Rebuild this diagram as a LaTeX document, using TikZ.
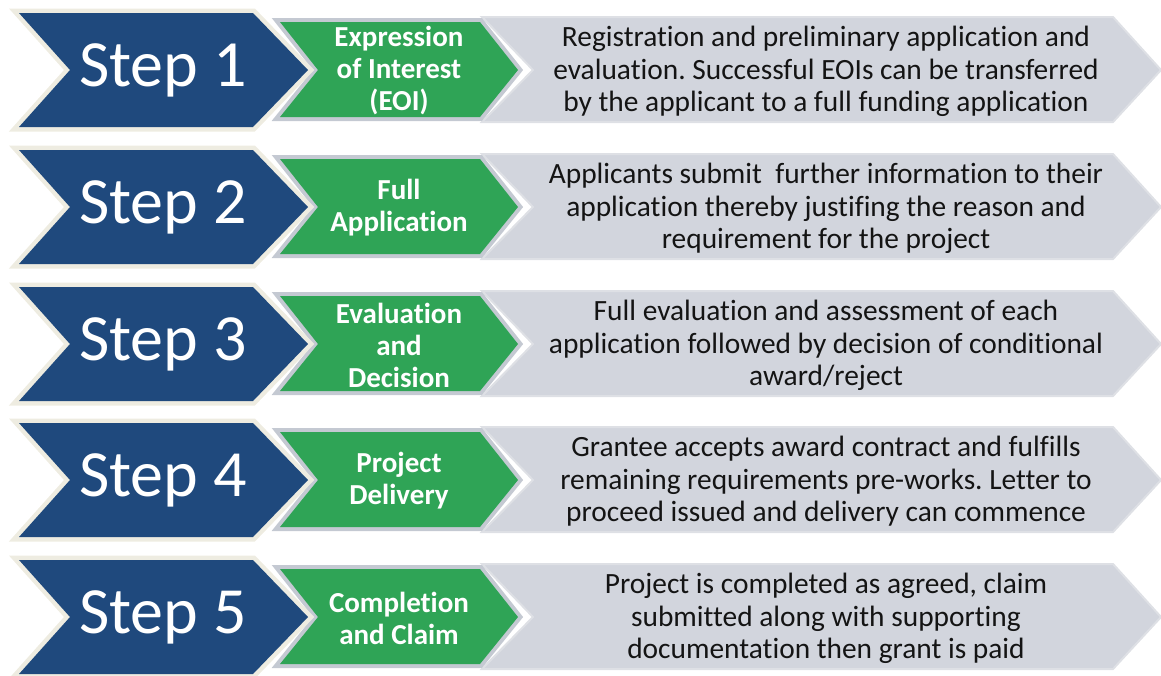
\documentclass[tikz,border=0pt]{standalone}
\usepackage{fontspec}
\setmainfont{Carlito}[Ligatures=NoCommon]
\frenchspacing

\definecolor{stepblue}{RGB}{31,73,125}
\definecolor{stepgreen}{RGB}{47,164,86}
\definecolor{cream}{RGB}{238,236,225}
\definecolor{silver}{RGB}{196,201,210}
\definecolor{descgrey}{RGB}{210,213,221}
\definecolor{greyedge}{RGB}{222,224,229}
\definecolor{desctxt}{RGB}{20,20,20}

\tikzset{
  bluechev/.style={fill=stepblue, preaction={draw=cream, line width=9pt}},
  greenchev/.style={fill=stepgreen, preaction={draw=silver, line width=8pt}},
  greychev/.style={fill=descgrey, draw=greyedge, line width=2pt},
  steptext/.style={text=white, font=\fontsize{66}{78}\selectfont},
  nametext/.style={text=white, align=center, font=\bfseries\fontsize{29}{32}\selectfont},
  desctext/.style={text=desctxt, align=center, font=\fontsize{29.4}{32.5}\selectfont},
}

% one row: centre y, number, green label, description
\newcommand{\steprow}[4]{%
  \path[greychev] (482,#1-53) -- (1113,#1-53) -- (1161,#1) -- (1113,#1+52) -- (482,#1+52) -- (533,#1) -- cycle;
  \path[greenchev] (280,#1-48) -- (480,#1-48) -- (518,#1) -- (480,#1+47) -- (280,#1+47) -- (318,#1) -- cycle;
  \path[bluechev] (19,#1-57) -- (253,#1-57) -- (308,#1) -- (253,#1+57) -- (19,#1+57) -- (70,#1) -- cycle;
  \node[steptext] (step#2) at (163,#1) {Step #2};
  \node[nametext] (name#2) at (399,#1+1) {#3};
  \node[desctext] (desc#2) at (826,#1+1.5) {#4};
}

\begin{document}
\begin{tikzpicture}[x=1pt,y=-1pt] %grant application steps
    \useasboundingbox (0,0) rectangle (1161,675);

    \steprow{70}{1}{Expression\\of Interest\\(EOI)}
        {Registration and preliminary application and\\evaluation. Successful EOIs can be transferred\\by the applicant to a full funding application}
    \steprow{207}{2}{Full\\Application}
        {Applicants submit\ \ further information to their\\application thereby justifing the reason and\\requirement for the project}
    \steprow{344}{3}{Evaluation\\and\\Decision}
        {Full evaluation and assessment of each\\application followed by decision of conditional\\award/reject}
    \steprow{480}{4}{Project\\Delivery}
        {Grantee accepts award contract and fulfills\\remaining requirements pre-works. Letter to\\proceed issued and delivery can commence}
    \steprow{617}{5}{Completion\\and Claim}
        {Project is completed as agreed, claim\\submitted along with supporting\\documentation then grant is paid}
\end{tikzpicture}
\end{document}
